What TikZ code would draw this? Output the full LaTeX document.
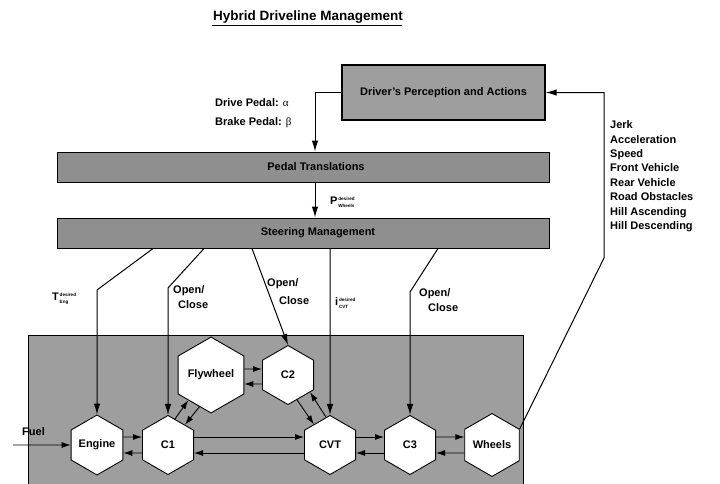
\documentclass[tikz,border=0pt]{standalone}
\usepackage{fontspec}
\setmainfont{Liberation Sans}
\newfontfamily\greekfont{Liberation Serif}
\usetikzlibrary{arrows.meta,shapes.geometric}

% small stacked "desired" tag after a symbol
\newcommand{\dsd}[2]{#1\hspace{0.8pt}{\fontsize{4.6}{7.4}\selectfont\begin{tabular}[c]{@{}l@{}}desired\\#2\end{tabular}}}

\begin{document}
\begin{tikzpicture}[x=1pt,y=-1pt,
    bar/.style={draw,line width=1pt,fill=black!44,minimum width=492pt,minimum height=30pt,font=\fontsize{11}{13}\selectfont\bfseries},
    hexa/.style={draw,line width=0.9pt,fill=white,regular polygon,regular polygon sides=6,shape border rotate=30,minimum size=59pt,inner sep=0pt,font=\fontsize{11}{13}\selectfont\bfseries},
    flow/.style={-{Latex[length=9pt,width=6pt]},line width=0.9pt},
    ctrl/.style={-{Latex[length=11pt,width=6.5pt]},line width=1pt},
    lbl/.style={font=\fontsize{11}{13}\selectfont\bfseries,inner sep=0pt,align=left}
]
\useasboundingbox (0,0) rectangle (720,483);

\node[font=\fontsize{13.5}{16}\selectfont\bfseries,inner sep=0pt,anchor=base] (title) at (308,20) {Hybrid Driveline Management};
\draw[line width=1.6pt] (212,25.5) -- (402,25.5);

\node[draw,line width=1.4pt,fill=black!38,minimum width=203pt,minimum height=55pt,font=\fontsize{11}{13}\selectfont\bfseries] (driver) at (443.5,92.5) {Driver's Perception and Actions};
\node[bar] (pedal) at (303,167) {\hspace*{26pt}Pedal Translations};
\node[bar] (steer) at (303,233) {\hspace*{30pt}Steering Management};

\node[draw,line width=1pt,fill=black!38,minimum width=495pt,minimum height=152pt] (plant) at (275.5,411) {};

\node[hexa] (engine) at (97,445) {Engine};
\node[hexa] (c1) at (168,445) {C1};
\node[hexa] (cvt) at (330,445) {CVT};
\node[hexa] (c3) at (410,445) {C3};
\node[hexa] (wheels) at (492,445) {Wheels};
\node[hexa] (fly) at (211,375) {Flywheel};
\node[hexa] (c2) at (288,375) {C2};

% power flows
\coordinate (fuelin) at (13,445);
\draw[flow] (fuelin) -- (engine.180);
\node[lbl,anchor=base west] (fuel) at (22,435) {Fuel};
\draw[flow] ([yshift=8pt]engine.0) -- ([yshift=8pt]c1.180);
\draw[flow] ([yshift=-8pt]c1.180) -- ([yshift=-8pt]engine.0);
\draw[flow] ([yshift=8pt]c1.0) -- ([yshift=8pt]cvt.180);
\draw[flow] ([yshift=-8pt]cvt.180) -- ([yshift=-8pt]c1.0);
\draw[flow] ([yshift=8pt]cvt.0) -- ([yshift=8pt]c3.180);
\draw[flow] ([yshift=-8pt]c3.180) -- ([yshift=-8pt]cvt.0);
\draw[flow] ([yshift=8pt]c3.0) -- ([yshift=8pt]wheels.180);
\draw[flow] ([yshift=-8pt]wheels.180) -- ([yshift=-8pt]c3.0);
\draw[flow] ([yshift=6pt]fly.0) -- ([yshift=6pt]c2.180);
\draw[flow] ([yshift=-9pt]c2.180) -- ([yshift=-9pt]fly.0);
\draw[flow] (c1.75) -- (fly.228);
\draw[flow] (fly.250) -- (c1.50);
\draw[flow] (c2.290) -- (cvt.128);
\draw[flow] (cvt.98) -- (c2.322);

% driver loop
\draw[ctrl] (driver.west) -| ([xshift=12pt]pedal.north);
\node[lbl,anchor=north west,font=\fontsize{11}{18.5}\selectfont\bfseries] (pedals) at (215,98.5) {Drive Pedal: {\greekfont\mdseries α}\\Brake Pedal: {\greekfont\mdseries β}};
\draw[ctrl] ([xshift=12pt]pedal.south) -- ([xshift=12pt]steer.north);
\node[lbl,anchor=base west] (pwh) at (330,204) {\dsd{P}{Wheels}};
\draw[ctrl] (wheels.30) -- (604,258) |- (driver.east);
\node[lbl,anchor=north west,font=\fontsize{11}{14.4}\selectfont\bfseries] (cues) at (610,120.5) {Jerk\\Acceleration\\Speed\\Front Vehicle\\Rear Vehicle\\Road Obstacles\\Hill Ascending\\Hill Descending};

% set points and switching
\draw[ctrl] ([xshift=-150pt]steer.south) -- (97,290) -- (engine.90);
\node[lbl,anchor=base west] (teng) at (52,300) {\dsd{T}{Eng}};
\draw[ctrl] ([xshift=-99pt]steer.south) -- (168,288) -- (c1.90);
\node[lbl,anchor=north west] (oc1) at (173,285) {Open/\\[2pt]\hspace*{5pt}Close};
\draw[ctrl] ([xshift=-51pt]steer.south) -- (c2.90);
\node[lbl,anchor=north west] (oc2) at (267,278) {Open/\\[5pt]\hspace*{12pt}Close};
\draw[ctrl] ([xshift=27pt]steer.south) -- (cvt.90);
\node[lbl,anchor=base west] (icvt) at (335,305) {\dsd{i}{CVT}};
\draw[ctrl] ([xshift=135pt]steer.south) -- (410,292) -- (c3.90);
\node[lbl,anchor=north west] (oc3) at (419,288) {Open/\\[2pt]\hspace*{9pt}Close};
\end{tikzpicture}
\end{document}
